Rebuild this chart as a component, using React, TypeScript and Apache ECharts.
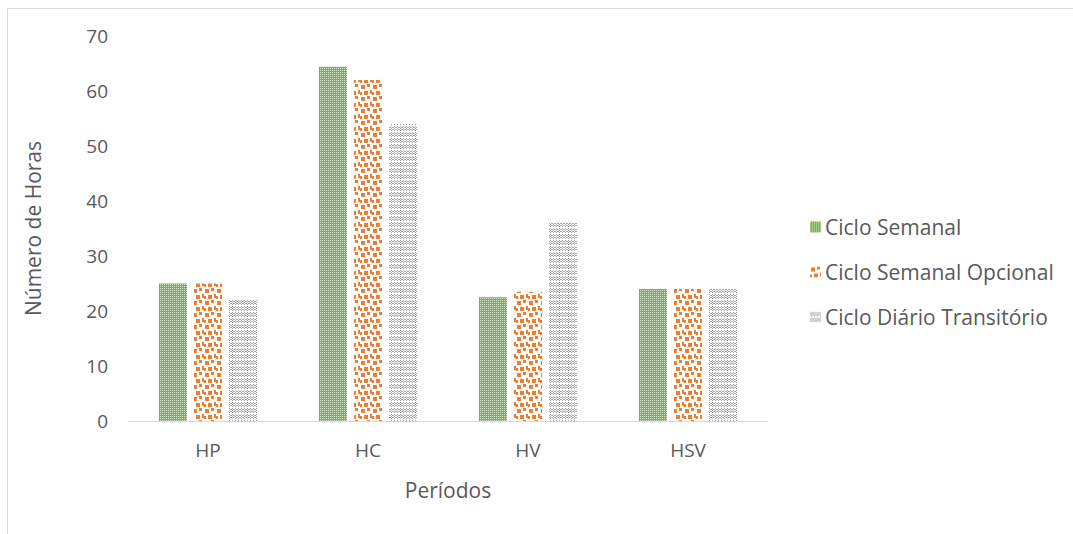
import React, { useEffect, useRef } from "react";
import * as echarts from "echarts";

const categories = ["HP", "HC", "HV", "HSV"];
const seriesNames = ["Ciclo Semanal", "Ciclo Semanal Opcional", "Ciclo Diário Transitório"];
const cicloSemanal = [25, 64.4, 22.5, 24];
const cicloSemanalOpcional = [25, 62, 23.5, 24];
const cicloDiarioTransitorio = [22, 54, 36, 24];

function makeTile(size: number, bg: string, fg: string, cells: number[][]) {
  const c = document.createElement("canvas");
  c.width = size;
  c.height = size;
  const ctx = c.getContext("2d")!;
  ctx.fillStyle = bg;
  ctx.fillRect(0, 0, size, size);
  ctx.fillStyle = fg;
  cells.forEach(([x, y, w, h]) => ctx.fillRect(x, y, w, h));
  return c;
}

export default function App() {
  const ref = useRef<HTMLDivElement>(null);
  useEffect(() => {
    document.body.style.margin = "0";
    const chart = echarts.init(ref.current!, null, { renderer: "svg" });
    const green = makeTile(4, "#74b24a", "#d8ebcb", [
      [0, 0, 1, 1], [2, 2, 1, 1], [2, 0, 1, 1], [0, 2, 1, 1],
    ]);
    const orange = makeTile(12, "#ffffff", "#ed7d31", [
      [1, 1, 4, 4], [7, 0, 3, 3], [4, 7, 4, 4], [10, 6, 2, 4], [0, 8, 2, 3],
    ]);
    const gray = makeTile(6, "#ffffff", "#a5a5a5", [
      [1, 0, 1, 1], [4, 0, 1, 1], [0, 1, 1, 1], [2, 1, 1, 1], [3, 1, 1, 1], [5, 1, 1, 1],
      [1, 2, 1, 1], [4, 2, 1, 1], [0, 3, 1, 1], [2, 3, 1, 1], [3, 3, 1, 1], [5, 3, 1, 1],
      [1, 4, 1, 1], [4, 4, 1, 1],
    ]);
    const fills = [
      { image: green, repeat: "repeat" },
      { image: orange, repeat: "repeat" },
      { image: gray, repeat: "repeat" },
    ];
    const data = [cicloSemanal, cicloSemanalOpcional, cicloDiarioTransitorio];
    const font = "'Open Sans', sans-serif";
    chart.setOption({
      animation: false,
      graphic: [
        {
          type: "rect",
          shape: { x: 7.5, y: 8.5, width: 1200, height: 700 },
          style: { fill: "none", stroke: "#d9d9d9", lineWidth: 1 },
          silent: true,
        },
      ],
      grid: { left: 128, right: 305, top: 36, bottom: 113 },
      legend: {
        orient: "vertical",
        left: 805,
        top: 211,
        itemWidth: 11,
        itemHeight: 11,
        itemGap: 23,
        icon: "rect",
        textStyle: { fontFamily: font, fontSize: 21, lineHeight: 22, color: "#595959", padding: [0, 0, 0, -1] },
        data: seriesNames,
      },
      xAxis: {
        type: "category",
        data: categories,
        name: "Períodos",
        nameLocation: "middle",
        nameGap: 58,
        nameTextStyle: { fontFamily: font, fontSize: 21, color: "#595959" },
        axisLine: { lineStyle: { color: "#d9d9d9", width: 1 } },
        axisTick: { show: false },
        axisLabel: { fontFamily: font, fontSize: 19, color: "#595959", margin: 19 },
      },
      yAxis: {
        type: "value",
        min: 0,
        max: 70,
        interval: 10,
        name: "Número de Horas",
        nameLocation: "middle",
        nameGap: 85,
        nameTextStyle: { fontFamily: font, fontSize: 21, color: "#595959" },
        axisLine: { show: false },
        axisTick: { show: false },
        splitLine: { show: false },
        axisLabel: { fontFamily: font, fontSize: 19, color: "#595959", margin: 20 },
      },
      series: seriesNames.map((name, i) => ({
        name,
        type: "bar",
        data: data[i],
        barWidth: 28,
        barGap: "25%",
        itemStyle: { color: fills[i] },
      })),
    });
    return () => chart.dispose();
  }, []);
  return <div ref={ref} style={{ width: 1073, height: 534 }} />;
}
